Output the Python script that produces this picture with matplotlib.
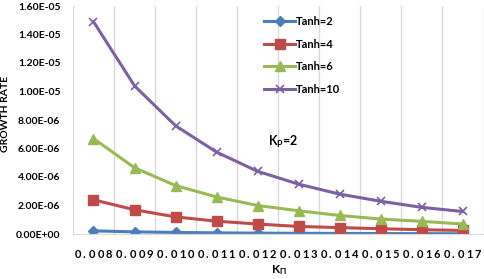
import numpy as np
import matplotlib
matplotlib.use("Agg")
import matplotlib.pyplot as plt

plt.rcParams['font.family'] = ['Lato', 'DejaVu Sans']
plt.rcParams['font.weight'] = 'bold'
plt.rcParams['mathtext.fontset'] = 'custom'
plt.rcParams['mathtext.rm'] = 'Lato:bold'
plt.rcParams['mathtext.bf'] = 'Lato:bold'
plt.rcParams['mathtext.it'] = 'Lato:bold'

k_pi = ['0.008', '0.009', '0.010', '0.011', '0.012', '0.013', '0.014', '0.015', '0.016', '0.017']

tanh2 = [2.2e-7, 1.5e-7, 1.1e-7, 8e-8, 6e-8, 5e-8, 4e-8, 3e-8, 2.5e-8, 2e-8]
tanh4 = [2.4e-6, 1.7e-6, 1.2e-6, 9e-7, 7e-7, 5.3e-7, 4.5e-7, 3.7e-7, 3e-7, 2.5e-7]
tanh6 = [6.7e-6, 4.65e-6, 3.4e-6, 2.6e-6, 2.0e-6, 1.63e-6, 1.3e-6, 1.05e-6, 8.9e-7, 7e-7]
tanh10 = [1.49e-5, 1.04e-5, 7.6e-6, 5.75e-6, 4.4e-6, 3.5e-6, 2.8e-6, 2.3e-6, 1.87e-6, 1.58e-6]

fig = plt.figure(figsize=(4.85, 2.79), dpi=100)
ax = fig.add_axes([73/485, 1-234/279, 410/485, 228/279])

x = np.arange(len(k_pi))
ax.plot(x, tanh2, '-D', color='#4A7EBB', lw=2.2, ms=5, label='Tanh=2')
ax.plot(x, tanh4, '-s', color='#BE4B48', lw=2.2, ms=7, label='Tanh=4')
ax.plot(x, tanh6, '-^', color='#98B954', lw=2.2, ms=7, label='Tanh=6')
ax.plot(x, tanh10, '-x', color='#7D60A0', lw=2.2, ms=6, mew=1.2, label='Tanh=10')

ax.set_xlim(-0.5, len(k_pi) - 0.5)
ax.set_ylim(0, 1.6e-5)
yt = np.arange(0, 1.61e-5, 2e-6)
ax.set_yticks(yt)
ax.set_yticklabels(['%.2E' % v for v in yt], fontsize=7.5, fontweight='bold')
ax.set_xticks(x)
# spaced-out digits like the original
ax.set_xticklabels(['$' + r'\hspace{0.2}'.join('{%s}' % c for c in s) + '$' for s in k_pi],
                   fontsize=8, fontweight='bold')
ax.set_xticks(np.arange(-0.5, len(k_pi)), minor=True)
ax.grid(True, which='minor', axis='x', color='#D9D9D9', lw=1)
ax.tick_params(which='both', length=0)
ax.tick_params(axis='x', pad=10)
ax.tick_params(axis='y', pad=9)
for s in ['top', 'right', 'left']:
    ax.spines[s].set_visible(False)
ax.spines['bottom'].set_color('#D9D9D9')

fig.text(6/485, 1-114/279, 'GROWTH RATE', rotation=90, fontsize=7.5, fontweight='bold',
         ha='center', va='center')
fig.text(279/485, 1-270/279, r'K$_\Pi$', fontsize=8.5, fontweight='bold', ha='center', va='center')
fig.text(268/485, 1-142/279, r'K$_\mathrm{P}$=2', fontsize=9, fontweight='bold', va='center')

fig.legend(loc='upper left', bbox_to_anchor=(254/485, 1-6/279), frameon=False,
           handlelength=2.8, handletextpad=0.1, labelspacing=1.05,
           prop={'weight': 'bold', 'size': 8})

fig.savefig('out.png', dpi=100)
